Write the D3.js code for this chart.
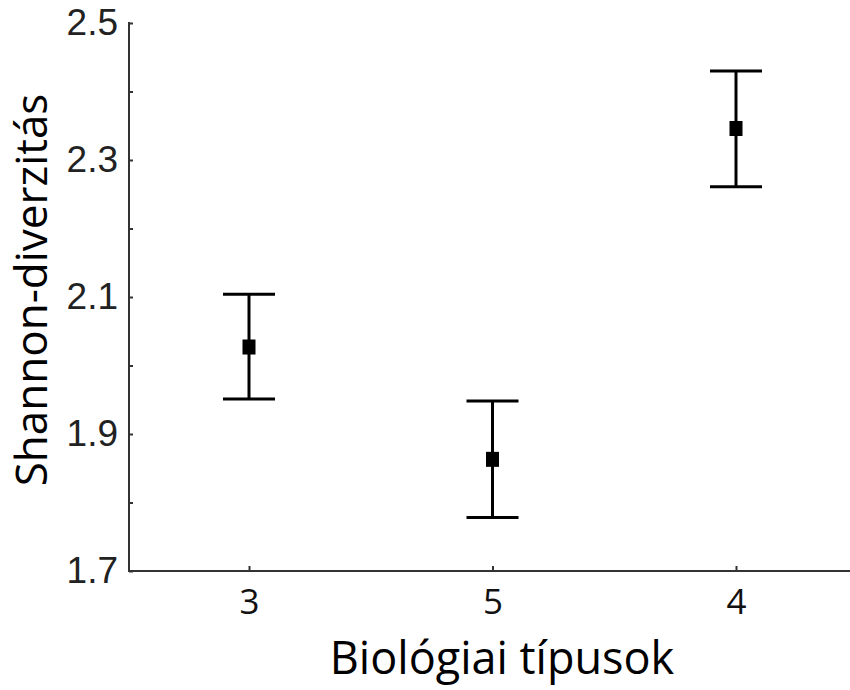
<!DOCTYPE html>
<html>
<head>
<meta charset="utf-8">
<script src="https://cdn.jsdelivr.net/npm/d3@7"></script>
<style>
  html, body { margin: 0; padding: 0; background: #fff; }
  svg { display: block; }
</style>
</head>
<body>
<svg id="chart" width="850" height="690"></svg>
<script>
// Biological type groups, in plotting order
const categories = ["3", "5", "4"];
// Mean Shannon diversity per group
const means = [2.027, 1.863, 2.346];
// Lower and upper limits of the error bars
const lower = [1.951, 1.778, 2.261];
const upper = [2.104, 1.948, 2.430];
// Y-axis ticks (every 0.1) and the ones that carry labels
const yTicks = [1.7, 1.8, 1.9, 2.0, 2.1, 2.2, 2.3, 2.4, 2.5];
const yLabelled = [1.7, 1.9, 2.1, 2.3, 2.5];

const xTitle = "Biológiai típusok";
const yTitle = "Shannon-diverzitás";

const svg = d3.select("#chart");
const plotLeft = 129, plotBottom = 571, plotTop = 23, plotRight = 850;

const x = d3.scalePoint().domain(categories).range([249, 736]);
const y = d3.scaleLinear().domain([1.7, 2.5]).range([plotBottom, plotTop]);

const rows = categories.map((c, i) => ({ c, m: means[i], lo: lower[i], hi: upper[i] }));

// Y axis: inward ticks, labels only on the odd tenths
const yAxis = d3.axisLeft(y)
  .tickValues(yTicks)
  .tickSize(-4)
  .tickPadding(11)
  .tickFormat(d => yLabelled.some(v => Math.abs(v - d) < 1e-9) ? d3.format(".1f")(d) : "");

const gy = svg.append("g").attr("transform", `translate(${plotLeft},0)`).call(yAxis);
gy.select(".domain").remove();
gy.selectAll(".tick line").attr("stroke", "#333").attr("stroke-width", 2);
gy.selectAll(".tick text")
  .attr("fill", "#222")
  .style("font-family", "'Liberation Sans', Arial, sans-serif")
  .style("font-size", "37px");

// X axis: inward ticks at each category
const xAxis = d3.axisBottom(x).tickSize(-5).tickPadding(18);
const gx = svg.append("g").attr("transform", `translate(0,${plotBottom})`).call(xAxis);
gx.select(".domain").remove();
gx.selectAll(".tick line").attr("stroke", "#333").attr("stroke-width", 2);
gx.selectAll(".tick text")
  .attr("fill", "#111")
  .attr("dy", "0.71em")
  .style("font-family", "'Open Sans', sans-serif")
  .style("font-size", "35px");

// Axis lines
svg.append("line")
  .attr("x1", plotLeft).attr("x2", plotLeft)
  .attr("y1", y(2.5) - 1).attr("y2", plotBottom + 1)
  .attr("stroke", "#333").attr("stroke-width", 2);
svg.append("line")
  .attr("x1", plotLeft - 1).attr("x2", plotRight)
  .attr("y1", plotBottom).attr("y2", plotBottom)
  .attr("stroke", "#333").attr("stroke-width", 2);

// Error bars
const capHalf = 26;
const bars = svg.append("g").attr("stroke", "#000").attr("stroke-width", 3);
bars.selectAll("line.v").data(rows).join("line")
  .attr("class", "v")
  .attr("x1", d => x(d.c)).attr("x2", d => x(d.c))
  .attr("y1", d => y(d.hi)).attr("y2", d => y(d.lo));
bars.selectAll("line.cap-hi").data(rows).join("line")
  .attr("class", "cap-hi")
  .attr("x1", d => x(d.c) - capHalf).attr("x2", d => x(d.c) + capHalf)
  .attr("y1", d => y(d.hi)).attr("y2", d => y(d.hi));
bars.selectAll("line.cap-lo").data(rows).join("line")
  .attr("class", "cap-lo")
  .attr("x1", d => x(d.c) - capHalf).attr("x2", d => x(d.c) + capHalf)
  .attr("y1", d => y(d.lo)).attr("y2", d => y(d.lo));

// Mean markers
const mw = 13, mh = 15;
svg.append("g").selectAll("rect").data(rows).join("rect")
  .attr("x", d => x(d.c) - mw / 2)
  .attr("y", d => y(d.m) - mh / 2)
  .attr("width", mw).attr("height", mh)
  .attr("fill", "#000");

// Axis titles
svg.append("text")
  .attr("x", 502).attr("y", 674)
  .attr("text-anchor", "middle")
  .attr("fill", "#000")
  .style("font-family", "'Open Sans', sans-serif")
  .style("font-size", "45px")
  .text(xTitle);

svg.append("text")
  .attr("transform", `translate(47,290) rotate(-90)`)
  .attr("text-anchor", "middle")
  .attr("fill", "#000")
  .style("font-family", "'Open Sans', sans-serif")
  .style("font-size", "44px")
  .text(yTitle);
</script>
</body>
</html>
